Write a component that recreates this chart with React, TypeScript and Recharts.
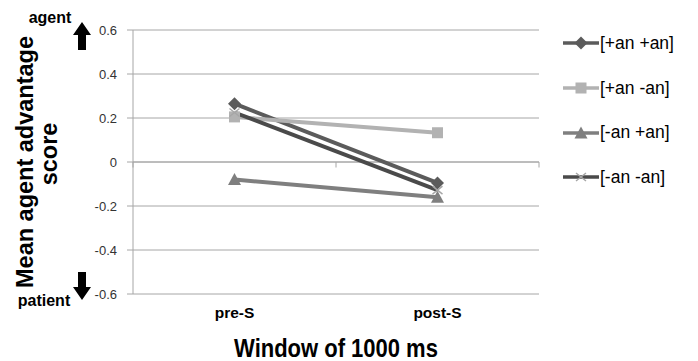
import React from 'react';
import { LineChart, Line, XAxis, YAxis, CartesianGrid, ReferenceLine } from 'recharts';

// window positions (category centres on a numeric axis so band edges can carry ticks)
const windows = ['pre-S', 'post-S'];
const windowPos = [0.5, 1.5];

const plusPlus = [0.265, -0.095];
const plusMinus = [0.205, 0.133];
const minusPlus = [-0.08, -0.16];
const minusMinus = [0.225, -0.128];

const yTicks = [-0.6, -0.4, -0.2, 0, 0.2, 0.4, 0.6];
const bandEdges = [0, 1, 2];

const SERIES = [
    { key: 'pp', name: '[+an +an]', values: plusPlus, color: '#5b5b5b', marker: 'diamond', markerColor: '#5b5b5b' },
    { key: 'pm', name: '[+an -an]', values: plusMinus, color: '#b2b2b2', marker: 'square', markerColor: '#b2b2b2' },
    { key: 'mp', name: '[-an +an]', values: minusPlus, color: '#7f7f7f', marker: 'triangle', markerColor: '#7f7f7f' },
    { key: 'mm', name: '[-an -an]', values: minusMinus, color: '#4a4a4a', marker: 'cross', markerColor: '#a6a6a6' },
];

const data = windows.map((w, i) => {
    const row: any = { window: w, x: windowPos[i] };
    SERIES.forEach(s => { row[s.key] = s.values[i]; });
    return row;
});

const FONT = '"Liberation Sans", Arial, sans-serif';

function Marker({ type, cx, cy, color }: { type: string; cx: number; cy: number; color: string }) {
    if (type === 'diamond') {
        return <polygon points={`${cx},${cy - 6.5} ${cx + 6.5},${cy} ${cx},${cy + 6.5} ${cx - 6.5},${cy}`} fill={color} />;
    }
    if (type === 'square') {
        return <rect x={cx - 5.5} y={cy - 5.5} width={11} height={11} fill={color} />;
    }
    if (type === 'triangle') {
        return <polygon points={`${cx},${cy - 6.5} ${cx + 6.5},${cy + 5.5} ${cx - 6.5},${cy + 5.5}`} fill={color} />;
    }
    return (
        <g stroke={color} strokeWidth={1.5}>
            <line x1={cx - 5} y1={cy - 4} x2={cx + 5} y2={cy + 4} />
            <line x1={cx - 5} y1={cy + 4} x2={cx + 5} y2={cy - 4} />
        </g>
    );
}

const CustomLegend = () => (
    <div style={{ position: 'absolute', left: 562, top: 21, fontFamily: FONT, fontSize: 17.5, color: '#000' }}>
        {SERIES.map(s => (
            <div key={s.key} style={{ display: 'flex', alignItems: 'center', height: 44.7 }}>
                <svg width={38} height={16}>
                    <line x1={1} y1={8} x2={37} y2={8} stroke={s.color} strokeWidth={3.5} />
                    <Marker type={s.marker} cx={19} cy={8} color={s.markerColor} />
                </svg>
                <span>{s.name}</span>
            </div>
        ))}
    </div>
);

export default function App() {
    return (
        <div style={{ position: 'absolute', left: 0, top: 0, width: 698, height: 361, background: '#fff' }}>
            <LineChart width={698} height={361} data={data} margin={{ top: 30, right: 159, bottom: 37, left: 73 }}>
                <CartesianGrid vertical={false} stroke="#a6a6a6" strokeWidth={1} />
                <XAxis
                    dataKey="x"
                    type="number"
                    domain={[0, 2]}
                    ticks={windowPos}
                    height={30}
                    tickFormatter={(v: number) => windows[windowPos.indexOf(v)] ?? ''}
                    axisLine={false}
                    tickLine={false}
                    tickMargin={7}
                    tick={{ fontFamily: FONT, fontSize: 15.5, fontWeight: 700, fill: '#000' }}
                />
                <YAxis
                    domain={[-0.6, 0.6]}
                    ticks={yTicks}
                    interval={0}
                    width={60}
                    tickFormatter={(v: number) => (v === 0 ? '0' : v.toFixed(1))}
                    axisLine={{ stroke: '#a6a6a6' }}
                    tickLine={{ stroke: '#a6a6a6' }}
                    tickSize={6}
                    tickMargin={10}
                    tick={{ fontFamily: FONT, fontSize: 13, fill: '#333' }}
                />
                <ReferenceLine y={0} stroke="#a6a6a6" />
                {bandEdges.map(e => (
                    <ReferenceLine key={e} segment={[{ x: e, y: 0 }, { x: e, y: -0.025 }]} stroke="#a6a6a6" />
                ))}
                {SERIES.map(s => (
                    <Line
                        key={s.key}
                        dataKey={s.key}
                        name={s.name}
                        stroke={s.color}
                        strokeWidth={4}
                        isAnimationActive={false}
                        dot={(p: any) => <Marker key={`${s.key}-${p.index}`} type={s.marker} cx={p.cx} cy={p.cy} color={s.markerColor} />}
                        activeDot={false}
                    />
                ))}
            </LineChart>
            <CustomLegend />
            <svg width={698} height={361} style={{ position: 'absolute', left: 0, top: 0, pointerEvents: 'none' }} fontFamily={FONT}>
                <text transform="translate(33,162) rotate(-90)" textAnchor="middle" fontSize={23.5} fontWeight={700} fill="#000">Mean agent advantage</text>
                <text transform="translate(57,154) rotate(-90)" textAnchor="middle" fontSize={23.5} fontWeight={700} fill="#000">score</text>
                <text x={50} y={23} textAnchor="middle" fontSize={16} fontWeight={700} fill="#000">agent</text>
                <text x={44} y={306} textAnchor="middle" fontSize={16} fontWeight={700} fill="#000">patient</text>
                <polygon points="82,22 91,35 86,35 86,50 78,50 78,35 73,35" fill="#000" />
                <polygon points="82,300 91,287 86,287 86,272 78,272 78,287 73,287" fill="#000" />
                <text transform="translate(336,357) scale(0.88,1)" textAnchor="middle" fontSize={25} fontWeight={700} fill="#000">Window of 1000 ms</text>
            </svg>
        </div>
    );
}
